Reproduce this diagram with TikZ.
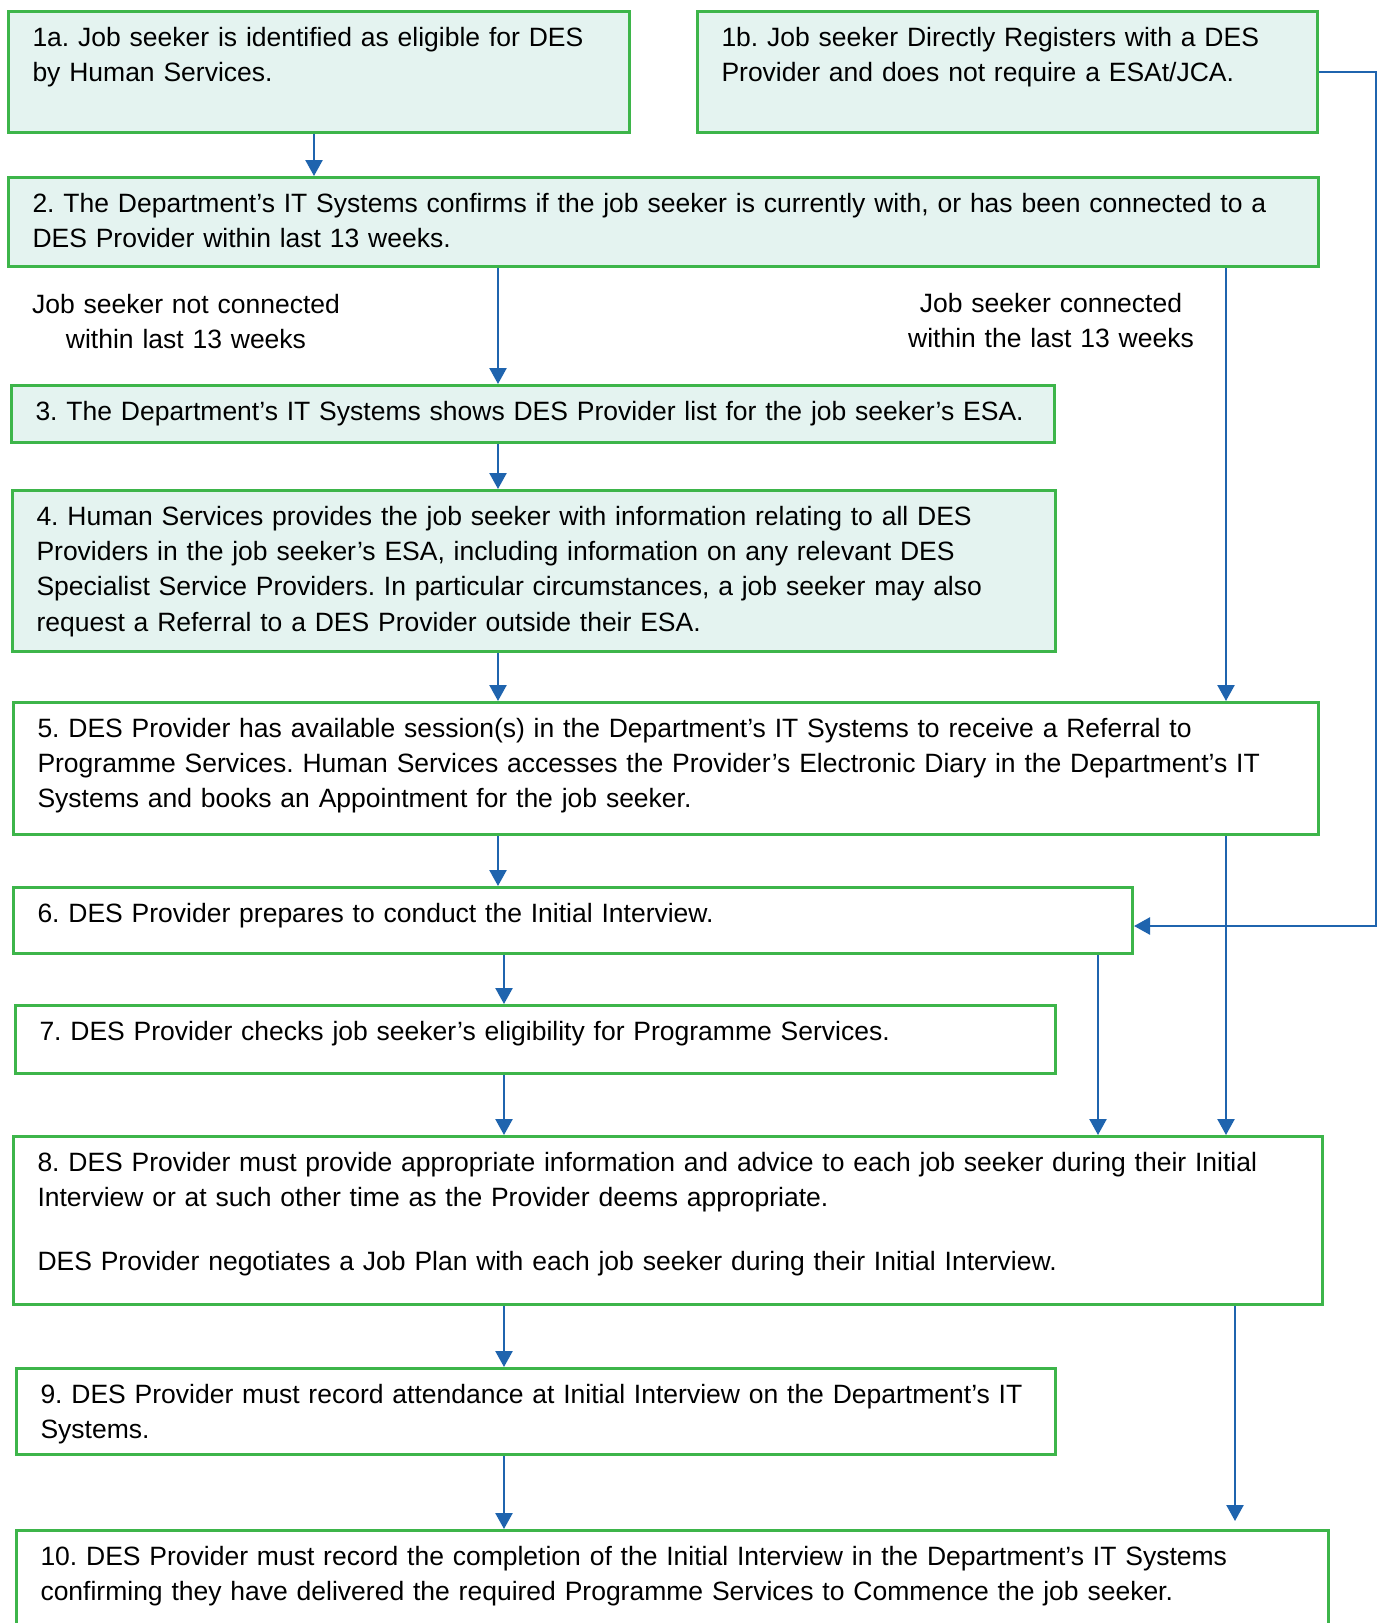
\documentclass[tikz,border=0pt]{standalone}
\usepackage{fontspec}
\setmainfont{Liberation Sans}
\usetikzlibrary{arrows.meta}
\frenchspacing

\definecolor{panelgreen}{HTML}{3DB54A}
\definecolor{panelfill}{HTML}{E4F3F0}
\definecolor{flowblue}{HTML}{1F64AE}

\begin{document}
\begin{tikzpicture}[x=1pt, y=-1pt,
  font=\fontsize{26.5}{35.2}\selectfont,
  panel/.style={draw=panelgreen, line width=3pt, anchor=north west,
    align=left, inner xsep=24pt, inner ysep=11pt, text height=24pt},
  shaded/.style={panel, fill=panelfill},
  note/.style={text width=340pt, align=center, inner sep=0pt,
    text height=24pt, anchor=north},
  flow/.style={draw=flowblue, line width=2.4pt,
    -{Triangle[width=17pt,length=16pt]}}]

  \fill [white, use as bounding box] (0,0) rectangle (1381,1623);
  \clip (0,0) rectangle (1381,1623);

  % Entry points and the first checks

  \node [shaded, text width=573pt, text depth=75pt] (idf) at (7,10)
    {1a. Job seeker is identified as eligible for DES\\by Human Services.};
  \node [shaded, text width=572pt, text depth=75pt] (reg) at (696,10)
    {1b. Job seeker Directly Registers with a DES\\Provider and does not require a ESAt/JCA.};
  \node [shaded, text width=1262pt, text depth=43pt] (chk) at (7,176)
    {2. The Department’s IT Systems confirms if the job seeker is currently with, or has been connected to a\\
     DES Provider within last 13 weeks.};
  \node [shaded, text width=995pt, text depth=11pt] (lst) at (10,384)
    {3. The Department’s IT Systems shows DES Provider list for the job seeker’s ESA.};
  \node [shaded, text width=995pt, text depth=115pt] (inf) at (11,489)
    {4. Human Services provides the job seeker with information relating to all DES\\
     Providers in the job seeker’s ESA, including information on any relevant DES\\
     Specialist Service Providers. In particular circumstances, a job seeker may also\\
     request a Referral to a DES Provider outside their ESA.};

  % Provider steps

  \node [panel, text width=1257pt, text depth=86pt] (ses) at (12,701)
    {5. DES Provider has available session(s) in the Department’s IT Systems to receive a Referral to\\
     Programme Services. Human Services accesses the Provider’s Electronic Diary in the Department’s IT\\
     Systems and books an Appointment for the job seeker.};
  \node [panel, text width=1071pt, text depth=20pt] (prp) at (12,886)
    {6. DES Provider prepares to conduct the Initial Interview.};
  \node [panel, text width=992pt, text depth=22pt] (elg) at (14,1004)
    {7. DES Provider checks job seeker’s eligibility for Programme Services.};
  \node [panel, text width=1261pt, text depth=122pt] (adv) at (12,1135)
    {8. DES Provider must provide appropriate information and advice to each job seeker during their Initial\\
     Interview or at such other time as the Provider deems appropriate.\\[29pt]
     DES Provider negotiates a Job Plan with each job seeker during their Initial Interview.};
  \node [panel, text width=991pt, text depth=40pt] (att) at (15,1367)
    {9. DES Provider must record attendance at Initial Interview on the Department’s IT\\Systems.};
  \node [panel, text width=1264pt, text depth=94pt] (cmp) at (15,1529)
    {10. DES Provider must record the completion of the Initial Interview in the Department’s IT Systems\\
     confirming they have delivered the required Programme Services to Commence the job seeker.};

  % Branch labels under step 2

  \node [note] (nocon) at (186,289) {Job seeker not connected\\within last 13 weeks};
  \node [note] (con) at (1051,288) {Job seeker connected\\within the last 13 weeks};

  % Connectors

  \coordinate (xa) at (314,0);
  \coordinate (xb) at (498,0);
  \coordinate (xc) at (504,0);
  \coordinate (xd) at (1098,0);
  \coordinate (xe) at (1226,0);
  \coordinate (xf) at (1235,0);
  \coordinate (loop) at (1376,926);

  \draw [flow] (idf.south -| xa) -- (chk.north -| xa);
  \draw [flow] (chk.south -| xb) -- (lst.north -| xb);
  \draw [flow] (lst.south -| xb) -- (inf.north -| xb);
  \draw [flow] (inf.south -| xb) -- (ses.north -| xb);
  \draw [flow] (ses.south -| xb) -- (prp.north -| xb);
  \draw [flow] (prp.south -| xc) -- (elg.north -| xc);
  \draw [flow] (elg.south -| xc) -- (adv.north -| xc);
  \draw [flow] (adv.south -| xc) -- (att.north -| xc);
  \draw [flow] (att.south -| xc) -- (cmp.north -| xc);
  \draw [flow] (chk.south -| xe) -- (ses.north -| xe);
  \draw [flow] (ses.south -| xe) -- (adv.north -| xe);
  \draw [flow] (prp.south -| xd) -- (adv.north -| xd);
  \draw [flow, shorten >=8pt] (adv.south -| xf) -- (cmp.north -| xf);
  \draw [flow] (reg.east) -| (loop) -- (loop -| prp.east);
\end{tikzpicture}
\end{document}
